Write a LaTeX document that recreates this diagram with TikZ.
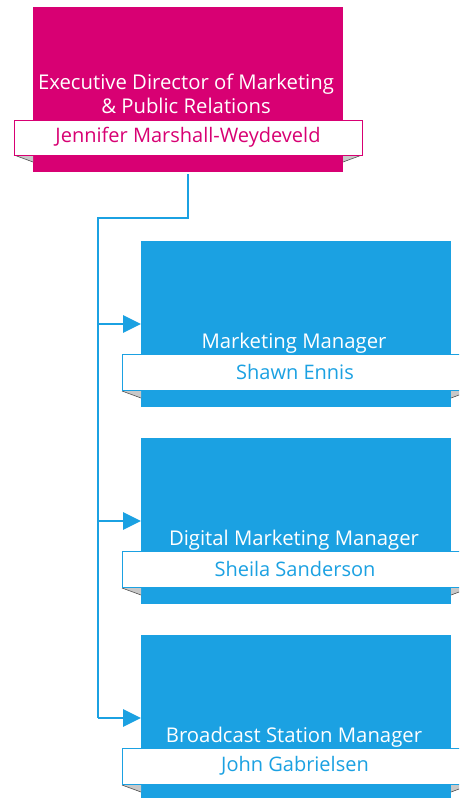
\documentclass[tikz,border=0pt]{standalone}
\usepackage{fontspec}
\setmainfont{Open Sans}
\usetikzlibrary{arrows.meta}
\definecolor{mag}{HTML}{D80073}
\definecolor{mblue}{HTML}{1BA1E2}
\definecolor{foldgray}{HTML}{C8C8C8}
\definecolor{folddark}{HTML}{505050}
\tikzset{
  box/.style={fill=#1, draw=none, inner sep=0pt, anchor=north west},
  banner/.style={fill=white, draw=#1, line width=1pt, inner sep=0pt, anchor=north west},
  titletext/.style={text=white, font=\fontsize{20.3}{24}\selectfont, align=center},
  nametext/.style={text=#1, font=\fontsize{20}{24}\selectfont},
  fold/.style={fill=foldgray, draw=none},
  conn/.style={draw=mblue, line width=2.8pt},
  arr/.style={conn, -{Triangle[length=18pt,width=17pt]}}
}
\begin{document}
\begin{tikzpicture}[x=1pt,y=-1pt]
\useasboundingbox (0,0) rectangle (459,798);
\clip (0,0) rectangle (459,798);
% top box
\node[box=mag, minimum width=310pt, minimum height=165pt] (top) at (33,7) {};
\node[titletext] (toptitle) at (186,94) {Executive Director of Marketing\\\& Public Relations};
\fill[fold] (14,155) -- (33,155) -- (33,162) -- cycle;
\draw[folddark, line width=0.6pt] (14,155) -- (33,162);
\fill[fold] (343,155) -- (362,155) -- (343,162) -- cycle;
\draw[folddark, line width=0.6pt] (362,155) -- (343,162);
\node[banner=mag, minimum width=348pt, minimum height=35pt] (topname) at (14,120) {};
\node[nametext=mag] (topnametext) at (188,137) {Jennifer Marshall-Weydeveld};
% blue boxes
\foreach \i/\y/\t/\n in {1/241/Marketing Manager/Shawn Ennis,
                         2/438/Digital Marketing Manager/Sheila Sanderson,
                         3/635/Broadcast Station Manager/John Gabrielsen}{
  \node[box=mblue, minimum width=310pt, minimum height=166pt] (b\i) at (141,\y) {};
  \node[titletext] (t\i) at (294,\y+102) {\t};
  \fill[fold] (122,\y+150) -- (141,\y+150) -- (141,\y+157) -- cycle;
  \draw[folddark, line width=0.6pt] (122,\y+150) -- (141,\y+157);
  \fill[fold] (451,\y+150) -- (470,\y+150) -- (451,\y+157) -- cycle;
  \draw[folddark, line width=0.6pt] (470,\y+150) -- (451,\y+157);
  \node[banner=mblue, minimum width=348pt, minimum height=36pt] (n\i) at (122,\y+113) {};
  \node[nametext=mblue] (nt\i) at (295,\y+131) {\n};
}
% connectors
\coordinate (c0) at (188,174);
\coordinate (c1) at (188,218);
\coordinate (c2) at (98,218);
\coordinate (e1) at (98,324);
\coordinate (e2) at (98,521);
\coordinate (e3) at (98,718);
\draw[conn] (c0) -- (c1) -- (c2) -- (e3);
\draw[arr] (e1) -- (b1.west |- e1);
\draw[arr] (e2) -- (b2.west |- e2);
\draw[arr] (e3) -- (b3.west |- e3);
\end{tikzpicture}
\end{document}
